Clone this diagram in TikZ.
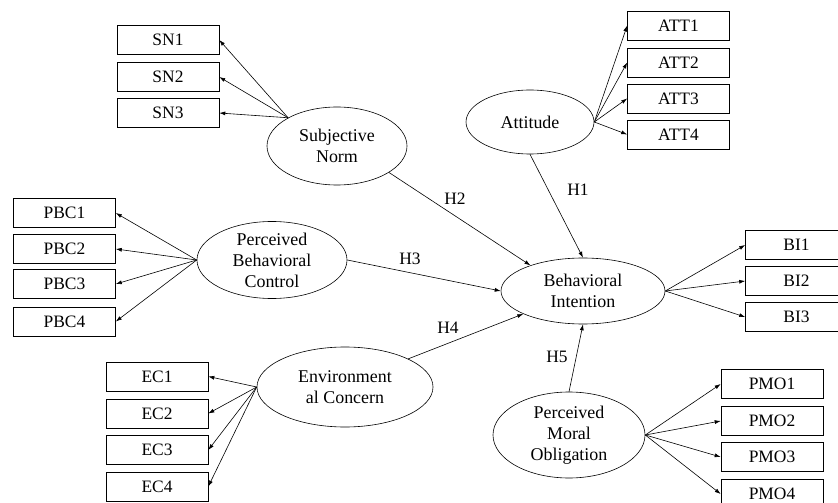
\documentclass[tikz,border=0pt]{standalone}
\usepackage{fontspec}
\setmainfont{Liberation Serif}
\usetikzlibrary{shapes.geometric,arrows.meta}
\begin{document}
\begin{tikzpicture}[x=1bp,y=-1bp,
 ind/.style={draw, line width=0.6bp, minimum width=102bp, minimum height=29bp, inner sep=0pt, font=\fontsize{17.5}{19}\selectfont},
 lat/.style={draw, ellipse, line width=0.6bp, inner sep=0pt, align=center, font=\fontsize{18}{21}\selectfont},
 arr/.style={-{Latex[length=6bp,width=4bp]}, line width=0.6bp},
 hlab/.style={font=\fontsize{17.5}{19}\selectfont, inner sep=0pt}]
\useasboundingbox (0,0) rectangle (838,503);
% indicators
\node[ind] (sn1) at (168,40) {SN1};
\node[ind] (sn2) at (168,77) {SN2};
\node[ind] (sn3) at (168,113) {SN3};
\node[ind] (att1) at (678.5,25.5) {ATT1};
\node[ind] (att2) at (678.5,62.5) {ATT2};
\node[ind] (att3) at (678.5,98.5) {ATT3};
\node[ind] (att4) at (678.5,134.5) {ATT4};
\node[ind] (pbc1) at (64.5,213) {PBC1};
\node[ind] (pbc2) at (64.5,249) {PBC2};
\node[ind] (pbc3) at (64.5,284) {PBC3};
\node[ind] (pbc4) at (64.5,321.5) {PBC4};
\node[ind] (bi1) at (796.5,245) {BI1};
\node[ind] (bi2) at (796.5,281) {BI2};
\node[ind] (bi3) at (796.5,317) {BI3};
\node[ind] (pmo1) at (772,384) {PMO1};
\node[ind] (pmo2) at (772,421) {PMO2};
\node[ind] (pmo3) at (772,457) {PMO3};
\node[ind] (pmo4) at (772,494) {PMO4};
\node[ind] (ec1) at (157,376.5) {EC1};
\node[ind] (ec2) at (157,413.5) {EC2};
\node[ind] (ec3) at (157,450) {EC3};
\node[ind] (ec4) at (157,486.5) {EC4};
% latent variables
\node[lat, minimum width=140bp, minimum height=78bp] (snorm) at (337,146) {Subjective\\Norm};
\node[lat, minimum width=128bp, minimum height=64bp] (att) at (530,122) {Attitude};
\node[lat, minimum width=150bp, minimum height=76bp] (pbc) at (272,260) {Perceived\\Behavioral\\Control};
\node[lat, minimum width=164bp, minimum height=66bp] (bi) at (583,291) {Behavioral\\Intention};
\node[lat, minimum width=176bp, minimum height=80bp] (ec) at (345,387) {Environment\\al Concern};
\node[lat, minimum width=152bp, minimum height=86bp] (pmo) at (569,435) {Perceived\\Moral\\Obligation};
% measurement arrows
\foreach \i in {1,2,3} \draw[arr] (snorm.150) -- (sn\i.east);
\foreach \i in {1,2,3,4} \draw[arr] (att.east) -- (att\i.west);
\foreach \i in {1,2,3,4} \draw[arr] (pbc.west) -- (pbc\i.east);
\foreach \i in {1,2,3} \draw[arr] (bi.east) -- (bi\i.west);
\foreach \i in {1,2,3,4} \draw[arr] (pmo.east) -- (pmo\i.west);
\foreach \i in {1,2,3,4} \draw[arr] (ec.west) -- (ec\i.east);
% structural paths
\draw[arr] (att.south) -- (bi.north);
\draw[arr] (snorm.-27) -- (bi.154);
\draw[arr] (pbc.east) -- (bi.west);
\draw[arr] (ec.24) -- (bi.201);
\draw[arr] (pmo.north) -- (bi.south);
% labels
\node[hlab] (h1) at (578,190) {H1};
\node[hlab] (h2) at (455,199) {H2};
\node[hlab] (h3) at (410,259) {H3};
\node[hlab] (h4) at (448,328) {H4};
\node[hlab] (h5) at (557,357) {H5};
\end{tikzpicture}
\end{document}
